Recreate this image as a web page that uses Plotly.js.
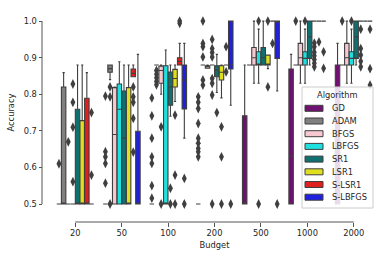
<!DOCTYPE html>
<html>
<head>
<meta charset="utf-8">
<script src="https://cdn.plot.ly/plotly-3.0.1.min.js"></script>
<style>html,body{margin:0;padding:0;background:#fff;}#chart{width:390px;height:260px;}</style>
</head>
<body>
<div id="chart"></div>
<script>
// ---- data ----
const budgets = ['20', '50', '100', '200', '500', '1000', '2000'];
const algorithms = ['GD', 'ADAM', 'BFGS', 'LBFGS', 'SR1', 'LSR1', 'S-LSR1', 'S-LBFGS'];

// per algorithm, one value per budget
const q1Values = [
  [0.5, 0.5, 0.5, 0.5, 0.5, 0.5, 0.5],          // GD
  [0.5, 0.86, 0.88, 0.88, 0.88, 0.88, 0.88],    // ADAM
  [0.5, 0.5, 0.83, 0.871, 0.88, 0.88, 0.88],    // BFGS
  [0.5, 0.5, 0.5, 0.88, 0.88, 0.88, 0.88],      // LBFGS
  [0.5, 0.5, 0.77, 0.848, 0.88, 0.898, 0.898],  // SR1
  [0.5, 0.5, 0.82, 0.839, 0.88, 1.0, 1.0],      // LSR1
  [0.5, 0.848, 0.88, 0.88, 1.0, 1.0, 1.0],      // S-LSR1
  [0.5, 0.5, 0.76, 0.869, 0.898, 1.0, 1.0]      // S-LBFGS
];
const medianValues = [
  [0.5, 0.5, 0.5, 0.5, 0.5, 0.631, 0.8],
  [0.5, 0.87, 0.88, 0.88, 0.88, 0.88, 0.88],
  [0.5, 0.69, 0.865, 0.875, 0.9, 0.9, 0.9],
  [0.5, 0.759, 0.5, 0.88, 0.88, 0.898, 0.898],
  [0.5, 0.68, 0.82, 0.866, 0.9, 0.957, 0.957],
  [0.5, 0.5, 0.843, 0.86, 0.88, 1.0, 1.0],
  [0.5, 0.857, 0.89, 0.88, 1.0, 1.0, 1.0],
  [0.5, 0.5, 0.839, 0.88, 1.0, 1.0, 1.0]
];
const q3Values = [
  [0.5, 0.5, 0.5, 0.5, 0.741, 0.869, 0.88],
  [0.82, 0.88, 0.88, 0.88, 0.88, 0.88, 0.88],
  [0.5, 0.818, 0.877, 0.878, 0.928, 0.939, 0.939],
  [0.5, 0.828, 0.878, 0.88, 0.916, 0.916, 0.916],
  [0.759, 0.809, 0.861, 0.878, 0.928, 1.0, 1.0],
  [0.728, 0.818, 0.868, 0.878, 0.907, 1.0, 1.0],
  [0.789, 0.869, 0.90, 0.88, 1.0, 1.0, 1.0],
  [0.5, 0.699, 0.88, 1.0, 1.0, 1.0, 1.0]
];
const lowWhisker = [
  [0.5, 0.5, 0.5, 0.5, 0.5, 0.5, 0.5],
  [0.5, 0.84, 0.88, 0.88, 0.88, 0.88, 0.88],
  [0.5, 0.5, 0.80, 0.871, 0.83, 0.83, 0.83],
  [0.5, 0.5, 0.5, 0.88, 0.83, 0.83, 0.83],
  [0.5, 0.5, 0.74, 0.805, 0.88, 0.88, 0.88],
  [0.5, 0.5, 0.78, 0.79, 0.87, 1.0, 1.0],
  [0.5, 0.848, 0.88, 0.88, 1.0, 1.0, 1.0],
  [0.5, 0.5, 0.68, 0.77, 0.809, 1.0, 1.0]
];
const highWhisker = [
  [0.5, 0.5, 0.5, 0.5, 0.88, 0.909, 0.939],
  [0.859, 0.88, 0.88, 0.88, 0.88, 0.88, 0.88],
  [0.5, 0.82, 0.88, 0.88, 1.0, 1.0, 1.0],
  [0.5, 0.889, 0.921, 0.88, 0.978, 0.978, 0.978],
  [0.88, 0.88, 0.88, 0.909, 1.0, 1.0, 1.0],
  [0.88, 0.88, 0.88, 0.88, 0.907, 1.0, 1.0],
  [0.859, 0.88, 0.939, 0.88, 1.0, 1.0, 1.0],
  [0.5, 0.909, 0.939, 1.0, 1.0, 1.0, 1.0]
];
// outliers[algorithm][budget] = list of values
const outliers = [
  [[0.61], [0.795, 0.643, 0.629, 0.611, 0.557], [0.79, 0.741, 0.68, 0.629, 0.611, 0.55, 0.516],
   [0.793, 0.778, 0.761, 0.72, 0.68, 0.666, 0.652, 0.643, 0.629], [], [], []],
  [[], [0.82, 0.793, 0.5], [0.865, 0.855, 0.845, 0.835, 0.826], [1.0, 0.939, 0.93, 0.902, 0.839, 0.825], [], [1.0], [1.0]],
  [[0.67], [], [0.711, 0.5], [], [], [], []],
  [[0.828, 0.778, 0.71, 0.561], [], [], [0.95, 0.925, 0.914, 0.902, 0.843, 0.83, 0.798, 0.5], [1.0, 0.5], [1.0], [1.0]],
  [[], [], [0.543, 0.5], [0.75], [], [], []],
  [[], [], [0.743, 0.579, 0.5], [0.711, 0.629, 0.5], [1.0, 0.82], [0.94, 0.93, 0.915, 0.905, 0.895, 0.885, 0.875], [0.978, 0.925, 0.907, 0.89, 0.875]],
  [[], [0.82, 0.793, 0.778, 0.734, 0.642], [1.0, 0.994], [0.93, 0.861], [0.939], [0.943], []],
  [[0.75, 0.579], [], [0.57, 0.5], [0.5], [0.5], [0.916, 0.871], [0.978, 0.87, 0.825]]
];

// ---- style ----
const colors = ['#701070', '#808080', '#f7c8d0', '#20dfdf', '#107070', '#dfdf20', '#df2020', '#2020df'];
const edge = '#3f3f3f';
const FONT = 'DejaVu Sans, sans-serif';
const FS = 8.3;
const TXT = '#262626';
const slot = 0.1;
const W = 390, H = 260, ML = 42, MR = 13, MT = 20, MB = 38;

function pos(a, i) { return i + (a - (algorithms.length - 1) / 2) * slot; }
// pixel -> paper helpers for the hand-drawn legend
function pxX(p) { return (p - ML) / (W - ML - MR); }
function pxY(p) { return (H - MB - p) / (H - MT - MB); }

const traces = [];
algorithms.forEach((alg, a) => {
  traces.push({
    type: 'box',
    name: alg,
    x: budgets.map((b, i) => pos(a, i)),
    q1: q1Values[a],
    median: medianValues[a],
    q3: q3Values[a],
    lowerfence: lowWhisker[a],
    upperfence: highWhisker[a],
    width: slot * 0.96,
    whiskerwidth: 0.5,
    boxpoints: false,
    fillcolor: colors[a],
    line: {color: edge, width: 1.1},
    hoverinfo: 'skip',
    showlegend: false
  });
});
algorithms.forEach((alg, a) => {
  const xs = [], ys = [];
  outliers[a].forEach((vals, i) => vals.forEach(v => { xs.push(pos(a, i)); ys.push(v); }));
  traces.push({
    type: 'scatter', mode: 'markers', x: xs, y: ys,
    marker: {symbol: 'diamond-tall', size: 7, color: edge, line: {width: 0}},
    cliponaxis: false, showlegend: false, hoverinfo: 'skip'
  });
});

const axisCol = '#555';
const shapes = [
  {type: 'line', xref: 'x', yref: 'paper', x0: 0, x1: 6, y0: 0, y1: 0, line: {color: axisCol, width: 1}},
  {type: 'line', xref: 'paper', yref: 'y', x0: 0, x1: 0, y0: 0.5, y1: 1.0, line: {color: axisCol, width: 1}},
  // legend frame
  {type: 'rect', xref: 'paper', yref: 'paper', layer: 'above',
   x0: pxX(302), x1: pxX(373), y0: pxY(208), y1: pxY(87),
   fillcolor: 'rgba(255,255,255,0.85)', line: {color: '#cccccc', width: 1}}
];
const annotations = [
  {xref: 'paper', yref: 'paper', x: pxX(337.5), y: pxY(95), text: 'Algorithm', showarrow: false,
   xanchor: 'center', yanchor: 'middle', font: {size: FS, family: FONT, color: TXT}}
];
algorithms.forEach((alg, a) => {
  const cy = 108.3 + a * 12.7;
  shapes.push({type: 'rect', xref: 'paper', yref: 'paper', layer: 'above',
    x0: pxX(305), x1: pxX(323), y0: pxY(cy + 3), y1: pxY(cy - 3),
    fillcolor: colors[a], line: {color: edge, width: 1}});
  annotations.push({xref: 'paper', yref: 'paper', x: pxX(330), y: pxY(cy), text: alg, showarrow: false,
    xanchor: 'left', yanchor: 'middle', font: {size: FS, family: FONT, color: TXT}});
});

const layout = {
  width: W, height: H,
  margin: {l: ML, r: MR, t: MT, b: MB, pad: 0},
  paper_bgcolor: '#fff', plot_bgcolor: '#fff',
  font: {family: FONT, size: FS, color: TXT},
  showlegend: false,
  boxmode: 'overlay',
  xaxis: {
    domain: [0.0299, 1], range: [-0.5, 6.5],
    anchor: 'free', position: 0,
    tickmode: 'array', tickvals: budgets.map((b, i) => i), ticktext: budgets,
    ticks: 'outside', ticklen: 3.5, tickwidth: 1, tickcolor: axisCol,
    showline: false, showgrid: false, zeroline: false,
    tickfont: {size: FS, family: FONT, color: TXT},
    title: {text: 'Budget', font: {size: FS, family: FONT, color: TXT}, standoff: 4}
  },
  yaxis: {
    domain: [0.0837, 1], range: [0.497, 1.003],
    anchor: 'free', position: 0,
    tickmode: 'array', tickvals: [0.5, 0.6, 0.7, 0.8, 0.9, 1.0],
    ticktext: ['0.5', '0.6', '0.7', '0.8', '0.9', '1.0'],
    ticks: 'outside', ticklen: 3.5, tickwidth: 1, tickcolor: axisCol,
    showline: false, showgrid: false, zeroline: false,
    tickfont: {size: FS, family: FONT, color: TXT},
    title: {text: 'Accuracy', font: {size: FS, family: FONT, color: TXT}, standoff: 6}
  },
  shapes: shapes,
  annotations: annotations
};

Plotly.newPlot('chart', traces, layout, {staticPlot: true, displayModeBar: false});
</script>
</body>
</html>
